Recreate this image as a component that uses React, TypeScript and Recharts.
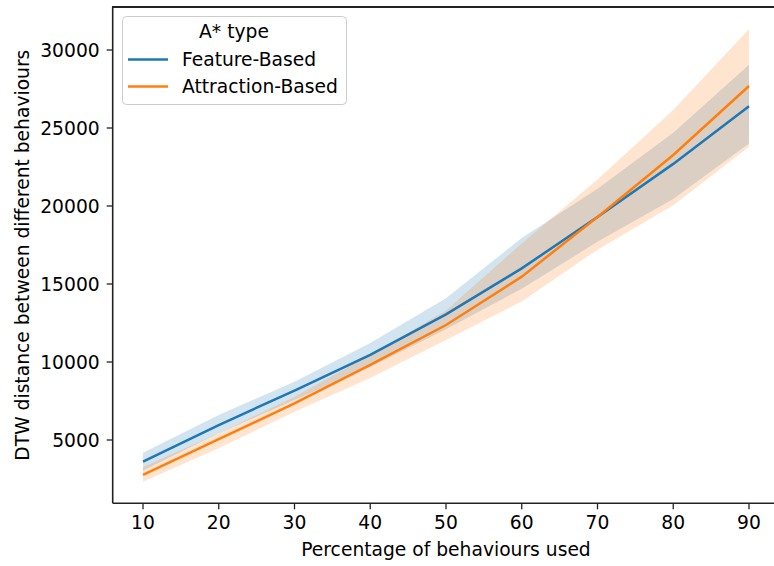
import { ComposedChart, Area, Line, XAxis, YAxis, Label } from "recharts";

const percentages = [10, 20, 30, 40, 50, 60, 70, 80, 90];

const featureMean = [3610, 5960, 8170, 10450, 13050, 16000, 19300, 22700, 26400];
const featureLow = [3050, 5430, 7560, 9680, 12100, 14700, 17700, 20450, 24000];
const featureHigh = [4190, 6600, 8740, 11220, 14080, 17950, 21100, 24700, 29050];

const attractionMean = [2760, 5050, 7350, 9810, 12370, 15470, 19300, 23270, 27690];
const attractionLow = [2330, 4470, 6810, 8970, 11410, 13870, 17200, 20050, 23800];
const attractionHigh = [3270, 5430, 7780, 10450, 13300, 17600, 21700, 26150, 31350];

const xTicks = [10, 20, 30, 40, 50, 60, 70, 80, 90];
const yTicks = [5000, 10000, 15000, 20000, 25000, 30000];

const BLUE = "#1f77b4";
const ORANGE = "#ff7f0e";
const FONT = "DejaVu Sans";
const FS = 18.7;

const data = percentages.map((p, i) => ({
  x: p,
  feature: featureMean[i],
  featureBand: [featureLow[i], featureHigh[i]],
  attraction: attractionMean[i],
  attractionBand: [attractionLow[i], attractionHigh[i]],
}));

const LegendBox = () => (
  <svg width={226} height={90} style={{ display: "block" }}>
    <rect x={0.5} y={0.5} width={224} height={88} rx={4} fill="rgba(255,255,255,0.8)" stroke="#cccccc" strokeWidth={1} />
    <text x={112} y={22} textAnchor="middle" fontFamily={FONT} fontSize={FS} fill="#000">A* type</text>
    <line x1={6} x2={46} y1={43.5} y2={43.5} stroke={BLUE} strokeWidth={2.5} />
    <text x={60} y={50} fontFamily={FONT} fontSize={FS} fill="#000">Feature-Based</text>
    <line x1={6} x2={46} y1={70.5} y2={70.5} stroke={ORANGE} strokeWidth={2.5} />
    <text x={60} y={77} fontFamily={FONT} fontSize={FS} fill="#000">Attraction-Based</text>
  </svg>
);

const tickStyle = { fontFamily: FONT, fontSize: FS, fill: "#000" };

export default function App() {
  return (
    <div style={{ position: "absolute", left: 0, top: 0, width: 774, height: 566, overflow: "hidden", background: "#fff" }}>
      <ComposedChart width={790} height={566} data={data} margin={{ top: 7, right: 10.7, bottom: 0, left: 0 }}>
        <XAxis
          dataKey="x"
          type="number"
          domain={[6, 94]}
          ticks={xTicks}
          allowDataOverflow
          height={62.7}
          tickSize={6}
          tickMargin={6}
          tick={tickStyle}
          stroke="#222"
          strokeWidth={1.6}
          tickLine={{ stroke: "#222", strokeWidth: 1.3 }}
        >
          <Label value="Percentage of behaviours used" position="insideBottom" offset={10} style={{ fontFamily: FONT, fontSize: FS, fill: "#000" }} />
        </XAxis>
        <YAxis
          type="number"
          domain={[942, 32756]}
          ticks={yTicks}
          allowDataOverflow
          width={112.7}
          tickSize={6}
          tickMargin={7}
          tick={tickStyle}
          stroke="#222"
          strokeWidth={1.6}
          tickLine={{ stroke: "#222", strokeWidth: 1.3 }}
        >
          <Label value="DTW distance between different behaviours" angle={-90} position="insideLeft" offset={22} style={{ fontFamily: FONT, fontSize: FS, fill: "#000", textAnchor: "middle" }} />
        </YAxis>
        <Area dataKey="featureBand" type="linear" stroke="none" fill={BLUE} fillOpacity={0.2} isAnimationActive={false} activeDot={false} />
        <Line dataKey="feature" type="linear" stroke={BLUE} strokeWidth={2.5} dot={false} isAnimationActive={false} />
        <Area dataKey="attractionBand" type="linear" stroke="none" fill={ORANGE} fillOpacity={0.2} isAnimationActive={false} activeDot={false} />
        <Line dataKey="attraction" type="linear" stroke={ORANGE} strokeWidth={2.5} dot={false} isAnimationActive={false} />
      </ComposedChart>
      {/* top spine */}
      <div style={{ position: "absolute", left: 111.9, top: 6.2, width: 670, height: 1.6, background: "#222" }} />
      <div style={{ position: "absolute", left: 121.5, top: 15.5 }}>
        <LegendBox />
      </div>
    </div>
  );
}
